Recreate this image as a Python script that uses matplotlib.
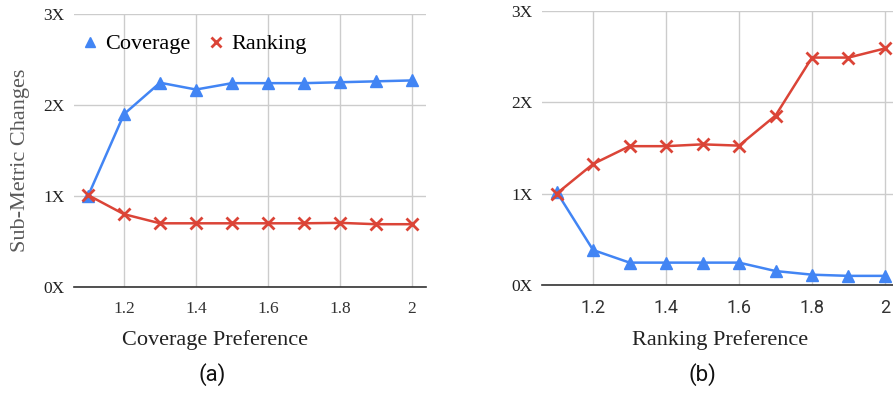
import matplotlib
matplotlib.use("Agg")
import matplotlib.pyplot as plt

x = [1.1, 1.2, 1.3, 1.4, 1.5, 1.6, 1.7, 1.8, 1.9, 2.0]
a_coverage = [1.00, 1.90, 2.245, 2.17, 2.24, 2.24, 2.24, 2.25, 2.26, 2.27]
a_ranking = [1.01, 0.80, 0.70, 0.70, 0.70, 0.70, 0.70, 0.705, 0.69, 0.69]
b_ranking = [1.00, 1.325, 1.52, 1.52, 1.54, 1.526, 1.855, 2.49, 2.49, 2.59]
b_coverage = [1.02, 0.383, 0.245, 0.245, 0.245, 0.245, 0.153, 0.113, 0.10, 0.10]
xticks = [1.2, 1.4, 1.6, 1.8, 2.0]
xticklabels = ["1.2", "1.4", "1.6", "1.8", "2"]
yticks = [0, 1, 2, 3]
yticklabels = ["0X", "1X", "2X", "3X"]

BLUE = "#4285F4"
RED = "#DB4437"
SERIF = "Liberation Serif"
SANS = "Roboto"

fig = plt.figure(figsize=(8.93, 3.93), dpi=100)
axA = fig.add_axes([74/893, 1-287/393, (426-74)/893, (287-14)/393])
axB = fig.add_axes([542/893, 1-285/393, (893-542)/893, (285-11)/393])

def style(ax, xlim, tickfont, tsize):
    ax.set_xlim(*xlim)
    ax.set_ylim(0, 3)
    ax.set_xticks(xticks)
    ax.set_xticklabels(xticklabels, family=tickfont, fontsize=tsize, color="#333333")
    ax.set_yticks(yticks)
    ax.set_yticklabels(yticklabels, family=SERIF, fontsize=12.5, color="#222222")
    ax.grid(True, color="#cccccc", linewidth=1)
    ax.set_axisbelow(True)
    for s in ["top", "right", "left"]:
        ax.spines[s].set_visible(False)
    ax.spines["bottom"].set_color("#333333")
    ax.spines["bottom"].set_linewidth(1.2)
    ax.spines["bottom"].set_zorder(3)
    ax.tick_params(axis="y", length=0, pad=7)
    ax.tick_params(axis="x", length=0, pad=10)

style(axA, (1.061, 2.039), SERIF, 12.5)
style(axB, (1.06, 2.022), SANS, 13)

mk = dict(linewidth=1.8, clip_on=False)
axA.plot(x, a_coverage, color=BLUE, marker="^", markersize=9, label="Coverage", zorder=4, **mk)
axA.plot(x, a_ranking, color=RED, marker="x", markersize=9, markeredgewidth=2, label="Ranking", zorder=5, **mk)
axB.plot(x, b_coverage, color=BLUE, marker="^", markersize=9, zorder=4, **mk)
axB.plot(x, b_ranking, color=RED, marker="x", markersize=9, markeredgewidth=2, zorder=5, **mk)

leg = axA.legend(loc="upper left", bbox_to_anchor=(-0.018, 0.984), ncol=2, frameon=False,
                 prop={"family": SERIF, "size": 16}, handlelength=0.6, handletextpad=0.4,
                 columnspacing=0.82, markerscale=0.8, borderaxespad=0.3)
for h in leg.legend_handles:
    h.set_linestyle("none")

axA.set_xlabel("Coverage Preference", family=SERIF, fontsize=16, color="#222222")
axA.xaxis.set_label_coords((215-74)/352, -(340-287)/273)
axA.xaxis.label.set_va("center")
axB.set_xlabel("Ranking Preference", family=SERIF, fontsize=16, color="#222222")
axB.xaxis.set_label_coords((720-542)/351, -(340-285)/274)
axB.xaxis.label.set_va("center")
axA.set_ylabel("Sub-Metric Changes", family=SERIF, fontsize=16, color="#595959")
axA.yaxis.set_label_coords((20-74)/352, (287-160)/273)
axA.yaxis.label.set_va("center")

fig.text(212/893, 1-375/393, "(a)", family=SANS, fontsize=16, ha="center", va="center", color="#111111")
fig.text(702/893, 1-375/393, "(b)", family=SANS, fontsize=16, ha="center", va="center", color="#111111")

fig.savefig("out.png", dpi=100)
